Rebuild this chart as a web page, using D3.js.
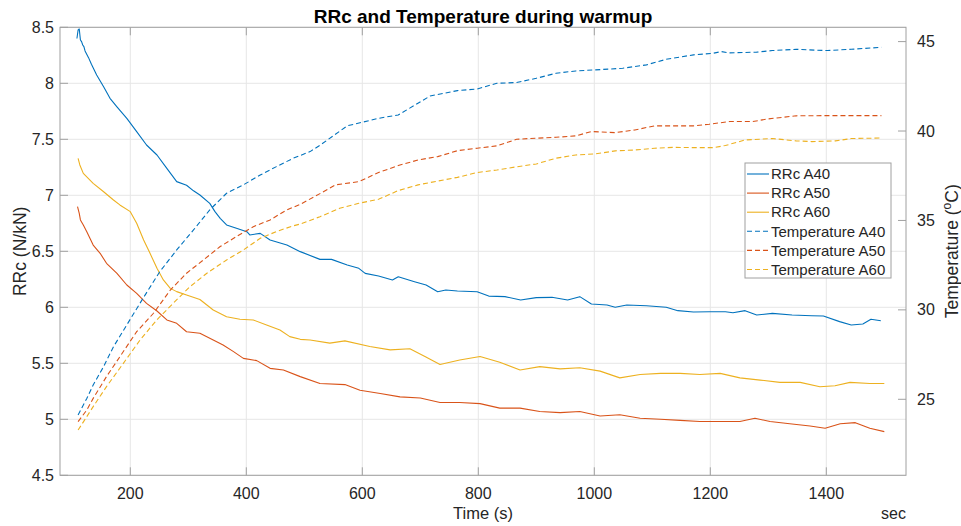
<!DOCTYPE html>
<html><head><meta charset="utf-8">
<script src="https://cdn.jsdelivr.net/npm/d3@7"></script>
<style>
html,body{margin:0;padding:0;background:#fff;}
svg{display:block;font-family:"Liberation Sans",Arial,Helvetica,sans-serif;}
</style></head>
<body>
<svg id="chart" width="961" height="526"></svg>
<script>
// ---------------- data ----------------
const xTicks = [200, 400, 600, 800, 1000, 1200, 1400];
const yLeftTicks = [4.5, 5, 5.5, 6, 6.5, 7, 7.5, 8, 8.5];
const yRightTicks = [25, 30, 35, 40, 45];
const seriesNames = ["RRc A40", "RRc A50", "RRc A60", "Temperature A40", "Temperature A50", "Temperature A60"];

const rrcA40_t = [108,110,112,114,116,118,120,122,128,133,142,154,165,177,194,211,228,246,263,280,297,309,320,337,346,355,366,383,401,406,424,441,470,493,527,547,574,594,605,628,652,662,690,710,730,744,764,798,818,846,873,900,927,954,975,995,1022,1036,1056,1090,1124,1144,1171,1199,1226,1239,1260,1280,1307,1341,1375,1395,1423,1443,1463,1477,1494];
const rrcA40_v = [8.40,8.476,8.485,8.387,8.372,8.342,8.327,8.289,8.229,8.17,8.074,7.97,7.866,7.79,7.687,7.568,7.449,7.36,7.241,7.122,7.09,7.04,7.003,6.928,6.854,6.794,6.735,6.705,6.675,6.646,6.66,6.601,6.556,6.497,6.428,6.428,6.378,6.348,6.303,6.279,6.244,6.273,6.229,6.199,6.139,6.154,6.145,6.139,6.1,6.095,6.065,6.086,6.089,6.065,6.095,6.029,6.02,6.0,6.02,6.014,6.0,5.97,5.958,5.96,5.96,5.952,5.97,5.931,5.946,5.931,5.925,5.922,5.872,5.842,5.851,5.893,5.88];

const rrcA50_t = [109,112,114,119,125,136,148,159,177,194,211,228,246,263,280,297,320,343,360,378,395,418,441,464,493,527,570,596,631,665,700,734,768,803,837,872,906,941,975,1010,1044,1079,1114,1148,1182,1217,1251,1277,1303,1337,1372,1398,1424,1450,1475,1500];
const rrcA50_v = [6.899,6.839,6.78,6.735,6.675,6.556,6.482,6.393,6.303,6.199,6.125,6.035,5.967,5.887,5.857,5.782,5.768,5.708,5.664,5.604,5.544,5.524,5.455,5.44,5.381,5.32,5.31,5.26,5.23,5.20,5.19,5.15,5.15,5.14,5.10,5.10,5.07,5.06,5.07,5.03,5.04,5.01,5.00,4.99,4.98,4.98,4.98,5.01,4.98,4.96,4.94,4.92,4.96,4.97,4.92,4.89];

const rrcA60_t = [110,113,119,136,154,171,182,200,211,223,234,246,257,269,280,297,320,343,366,389,412,435,458,475,493,510,544,570,613,648,682,708,734,768,803,837,872,906,941,975,1010,1044,1079,1114,1148,1182,1217,1251,1286,1320,1355,1389,1415,1441,1475,1500];
const rrcA60_v = [7.33,7.271,7.196,7.107,7.032,6.958,6.914,6.854,6.75,6.601,6.482,6.348,6.244,6.169,6.14,6.11,6.07,5.976,5.916,5.893,5.887,5.842,5.797,5.738,5.714,5.708,5.68,5.70,5.65,5.62,5.63,5.56,5.49,5.53,5.56,5.51,5.44,5.47,5.45,5.46,5.43,5.37,5.40,5.41,5.41,5.40,5.41,5.37,5.35,5.33,5.33,5.29,5.30,5.33,5.32,5.32];

const tempA40_t = [110,125,136,154,171,194,222,251,280,309,337,366,395,424,452,481,510,527,574,628,662,717,764,798,832,866,900,934,968,1002,1049,1090,1124,1171,1205,1219,1233,1280,1307,1348,1382,1402,1443,1495];
const tempA40_v = [24.12,25.05,25.8,26.83,27.94,29.16,30.65,32.14,33.35,34.47,35.59,36.52,36.99,37.54,38.01,38.48,38.85,39.2,40.29,40.71,40.9,41.96,42.26,42.35,42.67,42.71,42.95,43.23,43.36,43.42,43.51,43.7,44.01,44.26,44.35,44.44,44.37,44.41,44.5,44.57,44.52,44.5,44.57,44.68];

const tempA50_t = [110,125,136,159,182,211,240,269,297,326,355,383,412,441,470,493,527,554,594,628,662,696,730,764,798,832,866,900,934,968,995,1036,1070,1104,1137,1171,1198,1233,1273,1300,1348,1395,1443,1495];
const tempA50_v = [23.75,24.4,25.05,26.27,27.38,28.78,29.81,31.11,32.05,32.79,33.54,34.1,34.65,35.03,35.59,35.9,36.5,36.99,37.17,37.68,38.07,38.38,38.57,38.9,39.04,39.17,39.54,39.6,39.65,39.73,39.97,39.91,40.06,40.29,40.29,40.29,40.38,40.53,40.53,40.68,40.85,40.86,40.86,40.86];

const tempA60_t = [110,125,136,159,188,217,246,274,303,332,366,395,424,452,481,493,527,561,594,628,662,696,730,764,798,832,866,900,934,968,1002,1036,1070,1104,1137,1171,1205,1226,1260,1307,1348,1375,1416,1443,1495];
const tempA60_v = [23.28,24.03,24.59,25.71,27.01,28.32,29.45,30.37,31.3,32.05,32.79,33.35,34.0,34.38,34.7,34.8,35.21,35.68,35.96,36.18,36.67,36.99,37.2,37.41,37.68,37.82,38.0,38.16,38.48,38.66,38.72,38.89,38.94,39.04,39.09,39.07,39.07,39.19,39.5,39.58,39.45,39.41,39.45,39.58,39.61];

// ---------------- layout ----------------
const L = 60, R = 906, T = 27.3, B = 475.3;
const colors = ["#0072BD", "#D95319", "#EDB120"];
const svg = d3.select("#chart");

const x = d3.scaleLinear().domain([78.8, 1537.4]).range([L, R]);
const yL = d3.scaleLinear().domain([4.5, 8.5]).range([B, T]);
const yR = d3.scaleLinear().domain([20.75, 45.8]).range([B, T]);

// grid
const grid = svg.append("g").attr("stroke", "#e6e6e6").attr("stroke-width", 1);
xTicks.forEach(t => grid.append("line").attr("x1", x(t)).attr("x2", x(t)).attr("y1", T).attr("y2", B));
yLeftTicks.forEach(t => grid.append("line").attr("x1", L).attr("x2", R).attr("y1", yL(t)).attr("y2", yL(t)));

// clip
svg.append("clipPath").attr("id", "clip").append("rect").attr("x", L).attr("y", T).attr("width", R - L).attr("height", B - T);
const plot = svg.append("g").attr("clip-path", "url(#clip)");

const zip = (ts, vs) => ts.map((t, i) => [t, vs[i]]);
const lineL = d3.line().x(d => x(d[0])).y(d => yL(d[1]));
const lineR = d3.line().x(d => x(d[0])).y(d => yR(d[1]));

const rrc = [zip(rrcA40_t, rrcA40_v), zip(rrcA50_t, rrcA50_v), zip(rrcA60_t, rrcA60_v)];
const temp = [zip(tempA40_t, tempA40_v), zip(tempA50_t, tempA50_v), zip(tempA60_t, tempA60_v)];

rrc.forEach((d, i) => plot.append("path").attr("d", lineL(d)).attr("fill", "none")
  .attr("stroke", colors[i]).attr("stroke-width", 1.1).attr("stroke-linejoin", "round"));
temp.forEach((d, i) => plot.append("path").attr("d", lineR(d)).attr("fill", "none")
  .attr("stroke", colors[i]).attr("stroke-width", 1.1).attr("stroke-dasharray", "5,3"));

// axes box
const axisColor = "#a0a0a0";
const textColor = "#262626";
const box = svg.append("g").attr("stroke", axisColor).attr("stroke-width", 1).attr("fill", "none");
box.append("rect").attr("x", L).attr("y", T).attr("width", R - L).attr("height", B - T);

// x ticks (inward, bottom and top)
const tk = 8;
xTicks.forEach(t => {
  box.append("line").attr("x1", x(t)).attr("x2", x(t)).attr("y1", B).attr("y2", B - tk);
  box.append("line").attr("x1", x(t)).attr("x2", x(t)).attr("y1", T).attr("y2", T + tk);
});
yLeftTicks.forEach(t => box.append("line").attr("x1", L).attr("x2", L + tk).attr("y1", yL(t)).attr("y2", yL(t)));
yRightTicks.forEach(t => box.append("line").attr("x1", R).attr("x2", R - tk).attr("y1", yR(t)).attr("y2", yR(t)));

const fs = 16;
const txt = svg.append("g").attr("fill", textColor).attr("font-size", fs);
xTicks.forEach(t => txt.append("text").attr("x", x(t)).attr("y", 499).attr("text-anchor", "middle").text(t));
yLeftTicks.forEach(t => txt.append("text").attr("x", 54).attr("y", yL(t)).attr("dy", "0.35em").attr("text-anchor", "end").text(d3.format("")(t)));
yRightTicks.forEach(t => txt.append("text").attr("x", 917).attr("y", yR(t)).attr("dy", "0.35em").attr("text-anchor", "start").text(t));

// axis labels
txt.append("text").attr("x", (L + R) / 2).attr("y", 519).attr("text-anchor", "middle").attr("font-size", 16.5).text("Time (s)");
txt.append("text").attr("x", R).attr("y", 519).attr("text-anchor", "end").text("sec");
txt.append("text").attr("transform", `translate(26,${(T + B) / 2}) rotate(-90)`).attr("text-anchor", "middle").attr("font-size", 17.5).text("RRc (N/kN)");
const rl = txt.append("text").attr("transform", `translate(958,${(T + B) / 2}) rotate(-90)`).attr("text-anchor", "middle").attr("font-size", 17.5);
rl.append("tspan").text("Temperature (");
rl.append("tspan").attr("font-size", 12).attr("dy", -7).text("o");
rl.append("tspan").attr("dy", 7).text("C)");

// title
svg.append("text").attr("x", (L + R) / 2).attr("y", 22.5).attr("text-anchor", "middle")
  .attr("font-size", 19).attr("font-weight", "bold").attr("fill", "#000").text("RRc and Temperature during warmup");

// legend
const lg = svg.append("g");
lg.append("rect").attr("x", 745).attr("y", 163).attr("width", 146).attr("height", 115)
  .attr("fill", "#fff").attr("stroke", "#a0a0a0").attr("stroke-width", 1);
seriesNames.forEach((name, i) => {
  const yy = 174 + i * 19.1;
  lg.append("line").attr("x1", 747).attr("x2", 769).attr("y1", yy).attr("y2", yy)
    .attr("stroke", colors[i % 3]).attr("stroke-width", 1.1)
    .attr("stroke-dasharray", i >= 3 ? "5,3" : null);
  lg.append("text").attr("x", 771).attr("y", yy).attr("dy", "0.35em").attr("font-size", 15)
    .attr("fill", textColor).text(name);
});
</script>
</body></html>
